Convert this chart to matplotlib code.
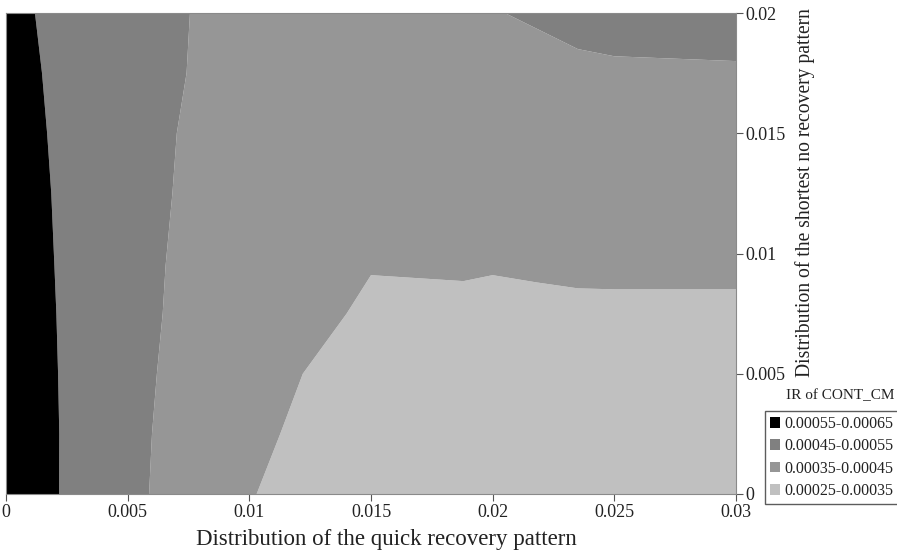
import numpy as np
import matplotlib
matplotlib.use("Agg")
import matplotlib.pyplot as plt
from matplotlib.patches import Patch

plt.rcParams['font.family'] = ['Liberation Serif', 'DejaVu Serif']

# grid of the quick recovery (x) and shortest no recovery (y) distributions
x_vals = [0, 0.003, 0.009, 0.015, 0.0188, 0.02, 0.0218, 0.0235, 0.025, 0.03]
y_vals = [0, 0.0025, 0.005, 0.0075, 0.0095, 0.0125, 0.015, 0.0175, 0.02]

# IR of CONT_CM (x 1e-5), one row per y value
ir_rows = [
    [62.97, 52, 37.42, 26.25, 28.00, 28.00, 28.00, 28.00, 28.00, 28.00],
    [63.10, 52, 38.00, 30.07, 29.00, 29.00, 29.00, 29.00, 29.00, 29.00],
    [62.47, 52, 38.88, 31.60, 30.00, 30.00, 30.00, 30.00, 30.00, 30.00],
    [61.68, 52, 39.79, 34.04, 32.00, 32.00, 32.00, 32.00, 32.00, 32.00],
    [60.90, 52, 40.20, 35.24, 36.44, 35.75, 36.62, 37.71, 37.94, 37.94],
    [59.90, 52, 41.06, 39.00, 40.00, 40.00, 40.00, 40.00, 40.00, 40.00],
    [58.87, 52, 41.55, 41.00, 41.00, 41.00, 41.00, 41.00, 41.00, 41.00],
    [57.92, 52, 42.50, 43.00, 43.00, 43.00, 43.00, 43.00, 43.00, 43.00],
    [56.97, 52, 42.79, 44.00, 44.50, 44.73, 45.70, 48.00, 50.14, 53.00],
]
ir_scale = 1e-5

levels = [0.00025, 0.00035, 0.00045, 0.00055, 0.00065]
level_labels = ['0.00025-0.00035', '0.00035-0.00045', '0.00045-0.00055', '0.00055-0.00065']
level_colors = ['#c0c0c0', '#969696', '#808080', '#000000']

x_ticks = [0, 0.005, 0.01, 0.015, 0.02, 0.025, 0.03]
x_tick_labels = ['0', '0.005', '0.01', '0.015', '0.02', '0.025', '0.03']
y_ticks = [0, 0.005, 0.01, 0.015, 0.02]
y_tick_labels = ['0', '0.005', '0.01', '0.015', '0.02']

Z = np.array(ir_rows) * ir_scale

fig = plt.figure(figsize=(8.97, 5.54), dpi=100)
ax = fig.add_axes([6/897, 60/554, 730/897, 481/554])
ax.contourf(x_vals, y_vals, Z, levels=levels, colors=level_colors, antialiased=True)
ax.set_xlim(0, 0.03)
ax.set_ylim(0, 0.02)

for s in ax.spines.values():
    s.set_color('#8a8a8a')
    s.set_linewidth(0.8)

ax.yaxis.tick_right()
ax.set_xticks(x_ticks)
ax.set_xticklabels(x_tick_labels)
ax.set_yticks(y_ticks)
ax.set_yticklabels(y_tick_labels)
ax.tick_params(axis='both', direction='out', length=5, width=0.8, color='#555555',
               labelsize=13, labelcolor='#222222', pad=2)

fig.text(386/897, 1 - 540/554, 'Distribution of the quick recovery pattern',
         ha='center', va='center', fontsize=16.5, color='#222222')

fig.text(805/897, 1 - 193/554, 'Distribution of the shortest no recovery pattern',
         rotation=90, ha='center', va='center', fontsize=14.1, color='#222222')

fig.text(840/897, 1 - 396/554, 'IR of CONT_CM', ha='center', va='center', fontsize=11, color='#222222')

handles = [Patch(facecolor=c, edgecolor='none') for c in level_colors[::-1]]
leg = fig.legend(handles, level_labels[::-1], loc='upper left',
                 bbox_to_anchor=(765/897, 1 - 411/554), frameon=True, fancybox=False,
                 fontsize=11.5, handlelength=0.65, handleheight=0.65, handletextpad=0.25,
                 borderpad=0.3, labelspacing=0.4, borderaxespad=0)
leg.get_frame().set_edgecolor('#333333')
leg.get_frame().set_linewidth(1.0)
for t in leg.get_texts():
    t.set_color('#222222')

fig.savefig('out.png', dpi=100)
